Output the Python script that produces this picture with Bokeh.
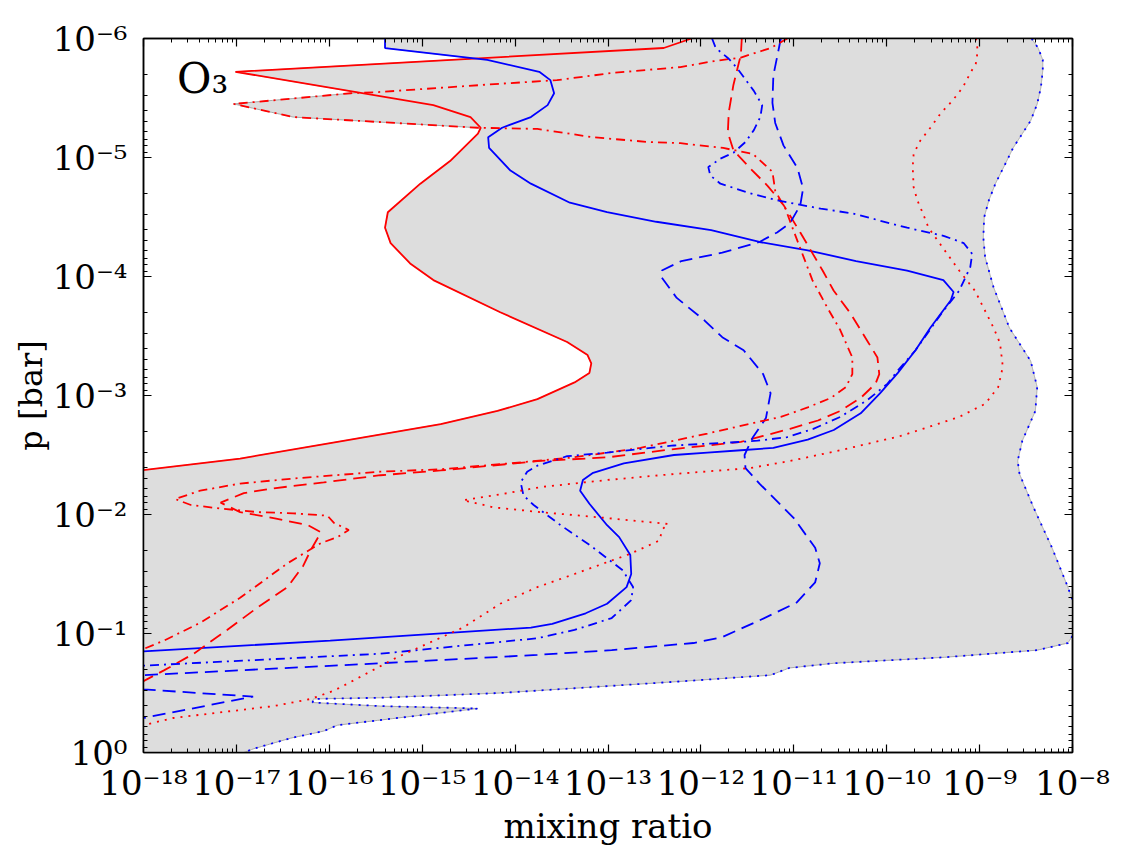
import numpy as np
from bokeh.plotting import figure
from bokeh.models import Range1d, LogAxis, FixedTicker, CustomJSTickFormatter, Label, ColumnDataSource
from bokeh.embed import file_html
from bokeh.resources import INLINE

# O3 mixing-ratio profiles, stored as log10(p / bar) and log10(mixing ratio)
red_solid_logp = [-6.00, -5.92, -5.72, -5.44, -5.34, -5.25, -5.20, -4.97, -4.78, -4.54, -4.41, -4.28, -4.11,
                  -3.97, -3.70, -3.45, -3.34, -3.27, -3.19, -3.11, -2.97, -2.87, -2.76, -2.60, -2.47, -2.37,
                  -2.20, 0.00]
red_solid_logx = [-12.10, -12.40, -17.01, -14.88, -14.48, -14.37, -14.40, -14.70, -15.02, -15.37, -15.40,
                  -15.34, -15.13, -14.88, -14.16, -13.44, -13.22, -13.18, -13.20, -13.36, -13.76, -14.19,
                  -14.80, -15.99, -16.96, -18.03, -20.0, -25.0]

blue_solid_logp = [-6.00, -5.92, -5.82, -5.72, -5.65, -5.54, -5.44, -5.34, -5.25, -5.17, -5.08, -4.89, -4.78,
                   -4.62, -4.54, -4.46, -4.39, -4.29, -4.22, -4.13, -4.05, -3.97, -3.87, -3.80, -3.57, -3.38,
                   -3.19, -3.02, -2.85, -2.71, -2.63, -2.56, -2.54, -2.52, -2.50, -2.43, -2.35, -2.29, -2.20,
                   -2.09, -1.91, -1.81, -1.66, -1.50, -1.39, -1.25, -1.17, -1.08, -1.05, -0.94, -0.85, -0.70,
                   0.00]
blue_solid_logx = [-15.40, -15.40, -14.30, -13.74, -13.62, -13.58, -13.65, -13.83, -14.14, -14.29, -14.28,
                   -14.05, -13.83, -13.41, -13.01, -12.48, -11.89, -11.37, -10.85, -10.33, -9.78, -9.39,
                   -9.28, -9.31, -9.53, -9.69, -9.88, -10.07, -10.28, -10.57, -10.85, -11.22, -11.57, -11.93,
                   -12.29, -12.83, -13.16, -13.27, -13.30, -13.20, -13.01, -12.88, -12.76, -12.75, -12.80,
                   -13.01, -13.24, -13.60, -13.83, -15.99, -18.00, -20.0, -25.0]

red_dashed_logp = [-6.00, -5.86, -5.80, -5.61, -5.38, -5.21, -5.06, -4.91, -4.76, -4.60, -4.37, -4.05, -3.88,
                   -3.69, -3.46, -3.32, -3.18, -3.10, -2.98, -2.87, -2.79, -2.72, -2.66, -2.61, -2.55, -2.48,
                   -2.45, -2.37, -2.33, -2.27, -2.22, -2.18, -2.10, -2.02, -1.97, -1.91, -1.85, -1.70, -1.57,
                   -1.39, -1.22, -1.03, -0.83, -0.69, -0.60, -0.40, 0.00]
red_dashed_logx = [-11.56, -11.57, -11.59, -11.65, -11.70, -11.71, -11.65, -11.47, -11.28, -11.11, -10.93,
                   -10.69, -10.57, -10.39, -10.21, -10.10, -10.08, -10.12, -10.28, -10.50, -10.74, -11.04,
                   -11.33, -11.57, -12.29, -13.01, -13.73, -14.80, -15.45, -16.06, -16.60, -16.92, -17.17,
                   -16.96, -16.60, -16.23, -16.09, -16.20, -16.28, -16.45, -16.77, -17.10, -17.46, -17.78,
                   -18.00, -20.0, -25.0]

blue_dashed_logp = [-6.00, -5.92, -5.69, -5.46, -5.29, -5.10, -4.91, -4.74, -4.60, -4.45, -4.37, -4.29, -4.20,
                    -4.13, -4.05, -3.99, -3.82, -3.63, -3.49, -3.38, -3.18, -3.02, -2.81, -2.65, -2.50, -2.39,
                    -2.26, -1.97, -1.72, -1.59, -1.43, -1.26, -1.11, -0.97, -0.92, -0.86, -0.82, -0.75, -0.65,
                    -0.59, -0.53, -0.47, -0.29, -0.20, 0.00]
blue_dashed_logx = [-11.14, -11.16, -11.22, -11.23, -11.20, -11.11, -10.96, -10.90, -10.93, -11.04, -11.18,
                    -11.37, -11.77, -12.21, -12.42, -12.42, -12.26, -11.96, -11.77, -11.54, -11.33, -11.25,
                    -11.30, -11.44, -11.53, -11.52, -11.37, -11.00, -10.77, -10.72, -10.77, -10.97, -11.37,
                    -11.77, -12.08, -12.96, -13.76, -15.45, -18.00, -19.00, -18.00, -16.82, -18.00, -20.0,
                    -25.0]

red_dashdot_logp = [-6.00, -5.92, -5.84, -5.81, -5.76, -5.71, -5.65, -5.62, -5.55, -5.54, -5.45, -5.34, -5.25,
                    -5.24, -5.17, -5.13, -5.12, -5.08, -5.03, -4.88, -4.72, -4.57, -4.40, -3.97, -3.74, -3.55,
                    -3.32, -3.18, -3.07, -2.98, -2.90, -2.82, -2.77, -2.68, -2.56, -2.48, -2.44, -2.38, -2.36,
                    -2.30, -2.26, -2.20, -2.13, -2.08, -2.05, -2.02, -2.01, -1.99, -1.93, -1.87, -1.81, -1.76,
                    -1.59, -1.30, -1.09, -0.94, -0.87, -0.60, 0.00]
red_dashdot_logx = [-11.07, -11.25, -11.57, -11.86, -12.22, -12.96, -13.55, -14.16, -15.47, -15.77, -17.03,
                    -16.39, -14.40, -13.76, -13.16, -12.56, -12.22, -11.76, -11.44, -11.23, -11.20, -11.09,
                    -11.01, -10.80, -10.64, -10.50, -10.37, -10.37, -10.44, -10.60, -10.85, -11.14, -11.43,
                    -11.93, -12.65, -13.37, -13.91, -14.80, -15.45, -16.42, -16.96, -17.39, -17.66, -17.49,
                    -17.17, -16.77, -16.39, -16.02, -15.95, -15.79, -15.91, -16.09, -16.45, -16.96, -17.39,
                    -17.78, -18.00, -20.0, -25.0]

blue_dashdot_logp = [-6.00, -5.92, -5.83, -5.75, -5.56, -5.44, -5.34, -5.23, -5.13, -5.04, -4.99, -4.92, -4.85,
                     -4.78, -4.70, -4.64, -4.57, -4.53, -4.41, -4.34, -4.28, -4.19, -4.08, -3.88, -3.69, -3.38,
                     -3.21, -3.10, -2.96, -2.82, -2.72, -2.65, -2.62, -2.61, -2.58, -2.52, -2.49, -2.41, -2.36,
                     -2.27, -2.16, -2.08, -1.91, -1.74, -1.53, -1.39, -1.28, -1.13, -1.03, -0.96, -0.83, -0.73,
                     -0.60, 0.00]
blue_dashdot_logx = [-11.88, -11.84, -11.70, -11.61, -11.43, -11.34, -11.36, -11.43, -11.52, -11.65, -11.79,
                     -11.92, -11.90, -11.79, -11.47, -11.18, -10.71, -10.37, -9.78, -9.38, -9.17, -9.08, -9.10,
                     -9.22, -9.41, -9.69, -9.88, -9.99, -10.21, -10.50, -10.79, -11.07, -11.39, -11.57, -12.29,
                     -13.01, -13.44, -13.76, -13.87, -13.94, -13.91, -13.80, -13.51, -13.19, -12.84, -12.73,
                     -12.75, -12.96, -13.36, -13.76, -15.45, -18.00, -20.0, -25.0]

red_dotted_logp = [-6.00, -5.90, -5.79, -5.71, -5.59, -5.48, -5.37, -5.25, -5.14, -5.03, -4.92, -4.75, -4.64,
                   -4.53, -4.41, -4.30, -4.05, -3.88, -3.71, -3.57, -3.44, -3.24, -3.07, -2.93, -2.82, -2.73,
                   -2.66, -2.54, -2.45, -2.39, -2.34, -2.29, -2.23, -2.18, -2.12, -2.06, -2.02, -1.97, -1.92,
                   -1.88, -1.78, -1.67, -1.50, -1.39, -1.25, -1.05, -0.80, -0.58, -0.52, -0.45, -0.39, -0.34,
                   -0.29, -0.23, -0.10, 0.00]
red_dotted_logx = [-9.04, -9.02, -9.04, -9.10, -9.18, -9.29, -9.42, -9.53, -9.64, -9.71, -9.72, -9.71, -9.67,
                   -9.61, -9.55, -9.45, -9.22, -9.05, -8.94, -8.85, -8.78, -8.75, -8.80, -8.94, -9.22, -9.57,
                   -9.85, -10.50, -11.04, -11.47, -12.29, -13.01, -13.73, -14.08, -14.56, -14.23, -13.73,
                   -13.01, -12.35, -12.41, -12.45, -12.76, -13.36, -13.76, -14.16, -14.56, -15.27, -15.80,
                   -15.95, -16.20, -16.60, -17.14, -17.68, -18.00, -20.0, -22.0]

blue_dotted_logp = [-6.00, -5.92, -5.82, -5.73, -5.59, -5.45, -5.31, -5.20, -5.08, -4.92, -4.78, -4.64, -4.50,
                    -4.33, -4.16, -3.91, -3.57, -3.29, -3.07, -2.87, -2.62, -2.45, -2.34, -2.06, -1.72, -1.39,
                    -1.28, -1.15, -0.98, -0.92, -0.86, -0.80, -0.75, -0.71, -0.65, -0.60, -0.54, -0.50, -0.46,
                    -0.45, -0.42, -0.39, -0.37, -0.23, -0.18, -0.12, -0.03, 0.00]
blue_dotted_logx = [-8.44, -8.37, -8.32, -8.32, -8.34, -8.38, -8.45, -8.54, -8.64, -8.74, -8.83, -8.90, -8.95,
                    -8.96, -8.94, -8.85, -8.68, -8.45, -8.38, -8.40, -8.54, -8.59, -8.57, -8.42, -8.22, -8.05,
                    -8.00, -7.95, -8.00, -8.05, -8.38, -9.38, -10.57, -11.05, -11.25, -12.17, -13.36, -14.16,
                    -15.45, -16.17, -16.18, -15.45, -14.40, -15.91, -16.06, -16.42, -16.82, -16.92]

x_tick_values = [1e-18, 1e-17, 1e-16, 1e-15, 1e-14, 1e-13, 1e-12, 1e-11, 1e-10, 1e-9, 1e-8]
x_tick_labels = ["10\u207b\u00b9\u2078", "10\u207b\u00b9\u2077", "10\u207b\u00b9\u2076", "10\u207b\u00b9\u2075",
                 "10\u207b\u00b9\u2074", "10\u207b\u00b9\u00b3", "10\u207b\u00b9\u00b2", "10\u207b\u00b9\u00b9",
                 "10\u207b\u00b9\u2070", "10\u207b\u2079", "10\u207b\u2078"]
y_tick_values = [1e-6, 1e-5, 1e-4, 1e-3, 1e-2, 1e-1, 1e0]
y_tick_labels = ["10\u207b\u2076", "10\u207b\u2075", "10\u207b\u2074", "10\u207b\u00b3", "10\u207b\u00b2",
                 "10\u207b\u00b9", "10\u2070"]

FONT = "DejaVu Serif"
DASH = {"solid": "solid", "dashed": "13 7", "dashdot": "9 5 2 5", "dotted": "2 6"}

profiles = [
    (red_solid_logp, red_solid_logx, "#ff0000", "solid"),
    (blue_solid_logp, blue_solid_logx, "#0000ff", "solid"),
    (red_dashed_logp, red_dashed_logx, "#ff0000", "dashed"),
    (blue_dashed_logp, blue_dashed_logx, "#0000ff", "dashed"),
    (red_dashdot_logp, red_dashdot_logx, "#ff0000", "dashdot"),
    (blue_dashdot_logp, blue_dashdot_logx, "#0000ff", "dashdot"),
    (red_dotted_logp, red_dotted_logx, "#ff0000", "dotted"),
    (blue_dotted_logp, blue_dotted_logx, "#0000ff", "dotted"),
]

# spread of all profiles at each pressure level (shaded band)
grid = np.unique(np.concatenate([np.linspace(-6.0, 0.0, 1201)] + [np.asarray(lp) for lp, *_ in profiles]))
stack = np.array([np.interp(grid, lp, lx) for lp, lx, *_ in profiles])
band = ColumnDataSource(dict(y=10.0 ** grid, lo=10.0 ** stack.min(axis=0), hi=10.0 ** stack.max(axis=0)))

p = figure(width=1124, height=858, x_axis_type="log", y_axis_type="log",
           x_range=Range1d(1e-18, 1e-8), y_range=Range1d(1.0, 1e-6),
           min_border_left=143, min_border_right=52, min_border_top=38, min_border_bottom=106,
           output_backend="svg", toolbar_location=None)
p.background_fill_color = "white"
p.border_fill_color = "white"
p.outline_line_color = "black"
p.outline_line_width = 1.5
p.xgrid.visible = False
p.ygrid.visible = False

p.harea(x1="lo", x2="hi", y="y", source=band, fill_color="#dddddd", fill_alpha=1.0)
p.line(x="lo", y="y", source=band, line_color="#a8a8a8", line_width=1)
p.line(x="hi", y="y", source=band, line_color="#a8a8a8", line_width=1)

for lp, lx, color, style in profiles:
    p.line(x=10.0 ** np.asarray(lx), y=10.0 ** np.asarray(lp), line_color=color, line_width=1.8,
           line_dash=DASH[style])

label_code = """
const i = tv.findIndex(t => Math.abs(Math.log10(t) - Math.log10(tick)) < 1e-6);
return i >= 0 ? tl[i] : "";
"""
x_minor = [m * 10.0 ** k for k in range(-18, -8) for m in range(2, 10)]
y_minor = [m * 10.0 ** k for k in range(-6, 0) for m in range(2, 10)]


def style_axis(ax, show_labels):
    ax.axis_line_color = "black"
    ax.axis_line_width = 1.5
    ax.major_tick_in = 8
    ax.major_tick_out = 0
    ax.minor_tick_in = 4
    ax.minor_tick_out = 0
    ax.major_tick_line_color = "black"
    ax.minor_tick_line_color = "black"
    ax.major_tick_line_width = 1.2
    ax.minor_tick_line_width = 1
    if not show_labels:
        ax.major_label_text_font_size = "0px"
        ax.major_label_standoff = 0


xb = p.xaxis[0]
xb.ticker = FixedTicker(ticks=x_tick_values, minor_ticks=x_minor)
xb.formatter = CustomJSTickFormatter(args=dict(tv=x_tick_values, tl=x_tick_labels), code=label_code)
xb.major_label_text_font = FONT
xb.major_label_text_font_size = "34px"
xb.major_label_text_color = "black"
xb.major_label_standoff = 10
xb.axis_label = "mixing ratio"
xb.axis_label_text_font = FONT
xb.axis_label_text_font_size = "34px"
xb.axis_label_text_font_style = "normal"
xb.axis_label_text_color = "black"
xb.axis_label_standoff = 0
style_axis(xb, True)

yl = p.yaxis[0]
yl.ticker = FixedTicker(ticks=y_tick_values, minor_ticks=y_minor)
yl.formatter = CustomJSTickFormatter(args=dict(tv=y_tick_values, tl=y_tick_labels), code=label_code)
yl.major_label_text_font = FONT
yl.major_label_text_font_size = "34px"
yl.major_label_text_color = "black"
yl.major_label_standoff = 16
yl.axis_label = "p [bar]"
yl.axis_label_text_font = FONT
yl.axis_label_text_font_size = "32px"
yl.axis_label_text_font_style = "normal"
yl.axis_label_text_color = "black"
yl.axis_label_standoff = 0
style_axis(yl, True)

top = LogAxis(ticker=FixedTicker(ticks=x_tick_values, minor_ticks=x_minor),
              formatter=CustomJSTickFormatter(code="return '';"))
style_axis(top, False)
p.add_layout(top, "above")

right = LogAxis(ticker=FixedTicker(ticks=y_tick_values, minor_ticks=y_minor),
                formatter=CustomJSTickFormatter(code="return '';"))
style_axis(right, False)
p.add_layout(right, "right")

# species label
p.add_layout(Label(x=10 ** -17.64, y=10 ** -5.66, text="O\u2083", text_font=FONT,
                   text_font_size="42px", text_align="left", text_baseline="alphabetic",
                   text_color="black"))

open("out.html", "w").write(file_html(p, INLINE))
